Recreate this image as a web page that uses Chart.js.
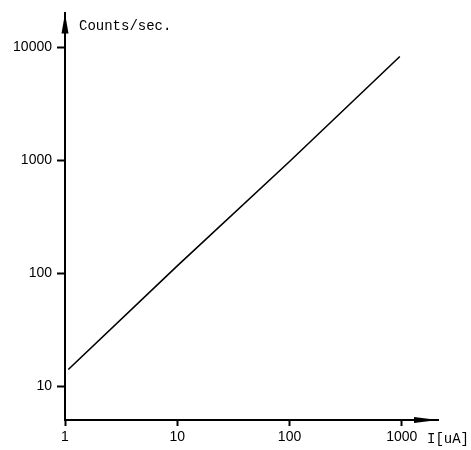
<!DOCTYPE html>
<html>
<head>
<meta charset="utf-8">
<script src="https://cdn.jsdelivr.net/npm/chart.js@4"></script>
<style>
  html, body { margin: 0; padding: 0; background: #fff; }
  #wrap { width: 471px; height: 450px; position: relative; }
</style>
</head>
<body>
<div id="wrap"><canvas id="c"></canvas></div>
<script>
// values (current in uA, counts per second)
const currentUA = [1.07, 10, 100, 960];
const countsPerSec = [14, 116, 975, 8300];
const xTicks = [1, 10, 100, 1000];
const yTicks = [10, 100, 1000, 10000];

const pts = currentUA.map((x, i) => ({ x: x, y: countsPerSec[i] }));

// arrows at the ends of both axes + the axis titles
const axisArrows = {
    id: 'axisArrows',
    afterDraw(chart) {
        const ctx = chart.ctx;
        const a = chart.chartArea;
        ctx.save();
        ctx.fillStyle = '#000';
        // y arrow
        ctx.beginPath();
        ctx.moveTo(a.left, a.top);
        ctx.lineTo(a.left - 3.5, a.top + 20);
        ctx.lineTo(a.left + 3.5, a.top + 20);
        ctx.closePath();
        ctx.fill();
        // x arrow
        ctx.beginPath();
        ctx.moveTo(a.right, a.bottom);
        ctx.lineTo(a.right - 24, a.bottom - 3);
        ctx.lineTo(a.right - 24, a.bottom + 3);
        ctx.closePath();
        ctx.fill();

        ctx.font = '14px "Liberation Mono", monospace';
        ctx.textBaseline = 'middle';
        ctx.textAlign = 'left';
        ctx.fillText('Counts/sec.', a.left + 14, a.top + 13);
        ctx.fillText('I[uA]', a.right - 11, a.bottom + 19);
        ctx.restore();
    }
};

new Chart(document.getElementById('c'), {
    type: 'line',
    data: {
        datasets: [{
            data: pts,
            borderColor: '#000',
            borderWidth: 1.6,
            pointRadius: 0,
            tension: 0,
            fill: false
        }]
    },
    options: {
        responsive: true,
        maintainAspectRatio: false,
        animation: false,
        layout: { padding: { top: 12, right: 33, left: 0, bottom: 0 } },
        plugins: {
            legend: { display: false },
            tooltip: { enabled: false }
        },
        scales: {
            x: {
                type: 'logarithmic',
                min: 1,
                max: 2100,
                afterBuildTicks: s => { s.ticks = xTicks.map(v => ({ value: v })); },
                afterFit: s => { s.height = 30; },
                border: { display: true, color: '#000', width: 2 },
                grid: { drawOnChartArea: false, drawTicks: true, tickLength: 6, tickWidth: 2, color: '#000' },
                ticks: {
                    autoSkip: false,
                    maxRotation: 0,
                    padding: 3,
                    color: '#000',
                    font: { family: '"Liberation Sans", Arial, sans-serif', size: 14 },
                    callback: v => String(v)
                }
            },
            y: {
                type: 'logarithmic',
                min: 5,
                max: 20000,
                afterBuildTicks: s => { s.ticks = yTicks.map(v => ({ value: v })); },
                afterFit: s => { s.width = 65; },
                border: { display: true, color: '#000', width: 2 },
                grid: { drawOnChartArea: false, drawTicks: true, tickLength: 8, tickWidth: 2, color: '#000' },
                ticks: {
                    autoSkip: false,
                    padding: 5,
                    color: '#000',
                    font: { family: '"Liberation Sans", Arial, sans-serif', size: 14 },
                    callback: v => String(v)
                }
            }
        }
    },
    plugins: [axisArrows]
});
</script>
</body>
</html>
